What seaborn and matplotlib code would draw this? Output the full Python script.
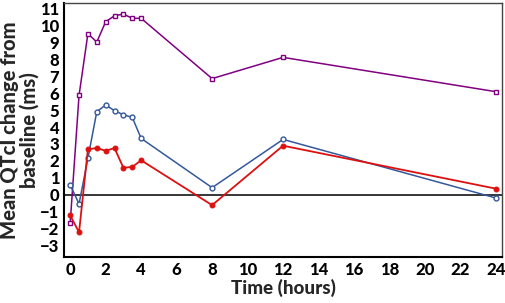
import matplotlib
matplotlib.use("Agg")
import matplotlib.pyplot as plt
import seaborn as sns
import pandas as pd
import numpy as np

# time points (hours) and mean QTcI change for each series
hours = [0, 0.5, 1, 1.5, 2, 2.5, 3, 3.5, 4, 8, 12, 24]
purple_vals = [-1.67, 5.86, 9.5, 9.0, 10.2, 10.55, 10.65, 10.4, 10.4, 6.85, 8.1, 6.08]
blue_vals = [0.6, -0.53, 2.16, 4.9, 5.3, 4.96, 4.72, 4.57, 3.33, 0.43, 3.27, -0.18]
red_vals = [-1.2, -2.2, 2.69, 2.76, 2.6, 2.76, 1.6, 1.65, 2.04, -0.6, 2.9, 0.37]

sns.set_style("white")
plt.rcParams['font.family'] = ['Lato', 'DejaVu Sans']

fig = plt.figure(figsize=(5.05, 3.03), dpi=100)
ax = fig.add_axes([0.127, 0.152, 0.867, 0.838])

# purple - open squares
sns.lineplot(x=hours, y=purple_vals, ax=ax, color="#800080", lw=1.1,
             marker="s", markersize=3.3, markerfacecolor="white",
             markeredgecolor="#800080", markeredgewidth=1)
# blue - open circles
sns.lineplot(x=hours, y=blue_vals, ax=ax, color="#34589a", lw=1.1,
             marker="o", markersize=3.5, markerfacecolor="white",
             markeredgecolor="#34589a", markeredgewidth=1)
# red - filled dots
sns.lineplot(x=hours, y=red_vals, ax=ax, color="#dd1010", lw=1.3,
             marker="o", markersize=3.5, markerfacecolor="#dd1010",
             markeredgecolor="#dd1010")

ax.axhline(0, color="black", lw=1.1, zorder=0)

ax.set_xlim(-0.34, 24.34)
ax.set_ylim(-3.65, 11.3)
ax.set_xticks(np.arange(0, 25, 2))
ax.set_yticks(np.arange(-3, 12, 1))
ax.set_yticks(np.arange(-3.5, 11.5, 0.5), minor=True)
ax.tick_params(axis="both", direction="in", colors="#999999", length=5, width=1.2,
               labelcolor="black", labelsize=12)
ax.tick_params(axis="y", which="minor", direction="in", color="#bbbbbb", length=3, width=1)
ax.set_yticklabels([("\u2212" + str(-v)) if v < 0 else str(v) for v in range(-3, 12)])
for lab in ax.get_xticklabels() + ax.get_yticklabels():
    lab.set_fontweight("black")

for s in ax.spines.values():
    s.set_color("black")
    s.set_linewidth(1.5)
ax.spines["right"].set_color("#444444")
ax.spines["top"].set_color("#444444")
ax.spines["right"].set_linewidth(1)
ax.spines["top"].set_linewidth(1)

ax.set_xlabel("Time (hours)", fontsize=13.5, fontweight="black", labelpad=1)
ax.set_ylabel("Mean QTcI change from\nbaseline (ms)", fontsize=14.5, fontweight="black",
              labelpad=1, linespacing=1.0)

fig.savefig("out.png", dpi=100)
